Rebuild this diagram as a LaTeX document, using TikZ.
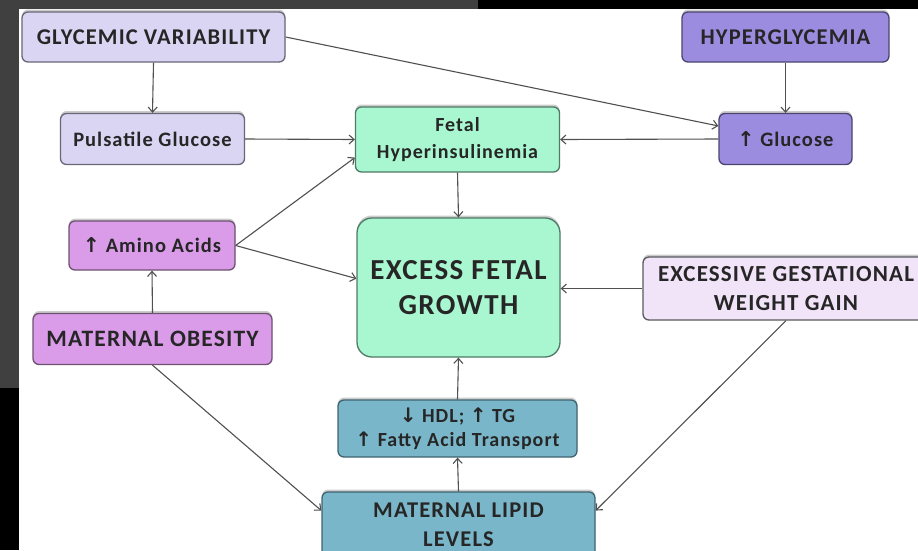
\documentclass[tikz,border=0pt]{standalone}
\usepackage{fontspec}
\setmainfont{Carlito}[LetterSpace=5]
\newfontfamily\symf{DejaVu Sans}
\usetikzlibrary{arrows.meta,shadows}
\definecolor{lav}{HTML}{DAD5F3}
\definecolor{lavline}{HTML}{6A6678}
\definecolor{purp}{HTML}{9C8CE0}
\definecolor{purpline}{HTML}{4B4570}
\definecolor{orch}{HTML}{DA9CE9}
\definecolor{orchline}{HTML}{6E5272}
\definecolor{mint}{HTML}{A9F7D0}
\definecolor{mintline}{HTML}{4F7A66}
\definecolor{pale}{HTML}{F1E3F8}
\definecolor{paleline}{HTML}{5A5A5E}
\definecolor{teal}{HTML}{7AB6C9}
\definecolor{tealline}{HTML}{3F6470}
\definecolor{arrgray}{HTML}{505050}
\definecolor{stripgray}{HTML}{404040}
\newcommand{\uparr}{{\symf ↑}}
\newcommand{\dnarr}{{\symf ↓}}
\tikzset{
  box/.style={draw, rounded corners=6pt, line width=1.3pt, align=center, inner sep=0pt,
    text=black!85, font=\fontsize{22.5}{27}\selectfont\bfseries,
    drop shadow={shadow xshift=0pt, shadow yshift=2.5pt, opacity=0.4, fill=gray}},
  lavbox/.style={box, fill=lav, draw=lavline},
  purpbox/.style={box, fill=purp, draw=purpline},
  orchbox/.style={box, fill=orch, draw=orchline},
  mintbox/.style={box, fill=mint, draw=mintline},
  palebox/.style={box, fill=pale, draw=paleline},
  tealbox/.style={box, fill=teal, draw=tealline},
  arr/.style={draw=arrgray, line width=1.1pt, -{Straight Barb[length=5pt,width=9pt,line width=1.1pt]}}
}
\begin{document}
\begin{tikzpicture}[x=1pt,y=-1pt]
\useasboundingbox (0,0) rectangle (918,550);
\clip (0,0) rectangle (918,550);
\fill[white] (0,0) rectangle (918,550);
\fill[stripgray] (0,0) rectangle (19,388);
\fill[black] (0,388) rectangle (19,550);
\fill[stripgray] (0,0) rectangle (478,9);
\fill[black] (478,0) rectangle (918,9);

\node[lavbox, minimum width=263pt, minimum height=50pt] (gv) at (153.5,37) {GLYCEMIC VARIABILITY};
\node[lavbox, minimum width=184pt, minimum height=51pt, font=\fontsize{20.5}{24}\selectfont\bfseries] (pg) at (152.5,139) {Pulsatile Glucose};
\node[mintbox, minimum width=204pt, minimum height=65pt, font=\fontsize{20}{27}\selectfont\bfseries] (fh) at (457.5,139.5) {Fetal\\Hyperinsulinemia};
\node[purpbox, minimum width=207pt, minimum height=50pt] (hg) at (785.5,37) {HYPERGLYCEMIA};
\node[purpbox, minimum width=133pt, minimum height=51pt, font=\fontsize{20.5}{24}\selectfont\bfseries] (gl) at (785.5,139) {\uparr\ Glucose};
\node[orchbox, minimum width=166pt, minimum height=49pt, font=\fontsize{20.5}{24}\selectfont\bfseries] (aa) at (152,245.5) {\uparr\ Amino Acids};
\node[mintbox, rounded corners=15pt, minimum width=203pt, minimum height=139pt, font=\fontsize{29}{35}\selectfont\bfseries] (ex) at (458.5,287.5) {EXCESS FETAL\\GROWTH};
\node[palebox, minimum width=286pt, minimum height=63pt, font=\fontsize{23}{29}\selectfont\bfseries] (wg) at (786,288.5) {EXCESSIVE GESTATIONAL\\WEIGHT GAIN};
\node[orchbox, minimum width=239pt, minimum height=51pt, font=\fontsize{23.5}{27}\selectfont\bfseries] (mo) at (152.5,339) {MATERNAL OBESITY};
\node[tealbox, minimum width=239pt, minimum height=57pt, font=\fontsize{20}{24}\selectfont\bfseries] (hdl) at (457.5,428.5) {\dnarr\ HDL; \uparr\ TG\\\uparr\ Fatty Acid Transport};
\node[tealbox, minimum width=273pt, minimum height=66pt, font=\fontsize{22.5}{29}\selectfont\bfseries] (ml) at (458.5,525) {MATERNAL LIPID\\LEVELS};

\draw[arr] (gv.south) -- (pg.north);
\draw[arr] (gv.east) -- (gl.169);
\draw[arr] (pg.east) -- (fh.west);
\draw[arr] (gl.west) -- (fh.east);
\draw[arr] (hg.south) -- (gl.north);
\draw[arr] (fh.south) -- (ex.north);
\draw[arr] (aa.east) -- (fh.190);
\draw[arr] (aa.east) -- (ex.175);
\draw[arr] (mo.north) -- (aa.south);
\draw[arr] (mo.south) -- (ml.174);
\draw[arr] (wg.south) -- (ml.6);
\draw[arr] (wg.west) -- (ex.east |- wg.west);
\draw[arr] (ml.north) -- (hdl.south);
\draw[arr] (hdl.north) -- (ex.south);
\end{tikzpicture}
\end{document}
